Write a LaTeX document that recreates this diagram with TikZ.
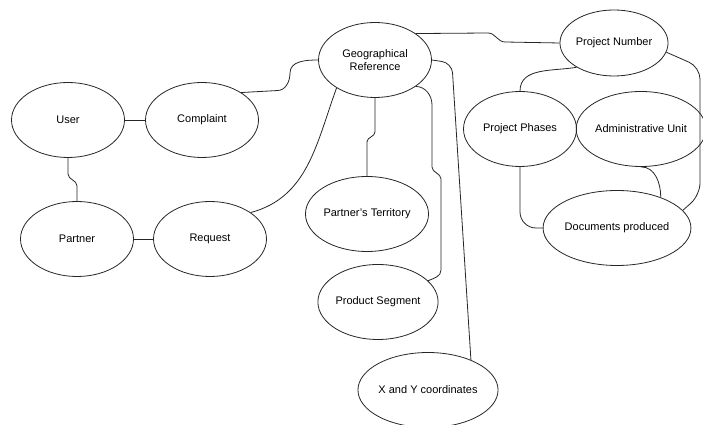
\documentclass[tikz,border=0pt]{standalone}
\usepackage{fontspec}
\setmainfont{Liberation Sans}
\usetikzlibrary{shapes.geometric}

\tikzset{
  entity/.style={ellipse, draw=black!85, line width=0.8pt, minimum width=113pt,
    minimum height=75pt, inner sep=0pt, align=center, font=\fontsize{11}{13}\selectfont},
  link/.style={draw=black!85, line width=0.8pt},
  elbow/.style={link, rounded corners=#1},
  elbow/.default=10pt
}

\begin{document}
\begin{tikzpicture}[x=1pt,y=1pt]
    % Rahmen
    \useasboundingbox (0,0) rectangle (703,425);

    % Entitaeten
    \foreach \name/\x/\y/\txt in {
        user/68/305/User, compl/202/305/Complaint,
        partner/77/186/Partner, req/210/186/Request,
        terr/367/211/Partner's Territory, seg/378/123/Product Segment,
        xy/428/35/X and Y coordinates,
        pph/520/296/Project Phases, adm/641/296/Administrative Unit,
        docs/617/197/Documents produced}
    {
        \node[entity] (\name) at (\x,\y) {\txt};
    }
    \node[entity] (geo) at (375,365) {Geographical\\Reference};
    \node[entity, minimum width=107pt, minimum height=66pt] (pnum) at (614,382) {Project Number};

    % Linke Seite
    \draw[link] (user.east) -- (compl.west);
    \draw[link] (partner.east) -- (req.west);
    \draw[link] (user.south) -- ++(0,-16) to[out=-90,in=90] ++(9,-12) -- (partner.north);
    \draw[link] (compl.35) -- ++(36,2) to[out=0,in=-90] (290,352) to[out=90,in=180] (geo.west);
    \draw[link] (req.33) to[out=15,in=-110] (geo.216);

    % Geographical Reference nach unten
    \draw[link] (geo.south) -- ++(0,-34) to[out=-90,in=90] ++(-8,-10) -- (terr.north);
    \draw[link] (geo.327) to[out=0,in=90] (432,320) -- (432,258) to[out=-90,in=90] (441,246)
        -- (441,155) to[out=-90,in=23] (seg.23);
    \draw[elbow] (geo.east) -- ++(20,-3) -- (xy.35);

    % Rechte Seite
    \draw[link] (geo.33) -- (488,392) to[out=0,in=180] (505,383) -- (pnum.west);
    \draw[link] (pnum.213) to[out=190,in=90] (pph.north);
    \draw[link] (pph.east) -- (adm.west);
    \draw[elbow=16pt] (pph.south) |- (docs.west);
    \draw[link] (adm.south) to[out=0,in=90] (docs.35);
    \draw[elbow=12pt] (pnum.350) -- (700,358) -- (700,230) -- (docs.15);
\end{tikzpicture}
\end{document}
